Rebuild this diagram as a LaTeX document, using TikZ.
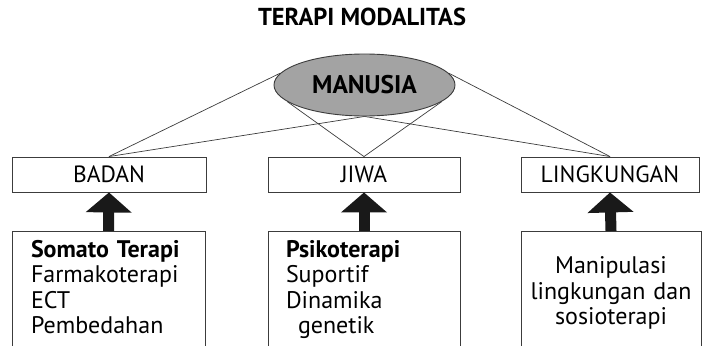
\documentclass[tikz,border=0pt]{standalone}
\usepackage{fontspec}
\setmainfont{PT Sans}
\usetikzlibrary{shapes.geometric, arrows.meta, positioning}
\definecolor{ovalgray}{RGB}{163,163,163}
\definecolor{edgegray}{RGB}{60,60,60}

\begin{document}
\begin{tikzpicture}[x=1pt, y=-1pt, aspect/.style={draw=edgegray,
      line width=0.9pt, minimum height=35pt, inner sep=0pt,
      font=\fontsize{23.5}{26}\selectfont}, therapy/.style={draw=edgegray,
      line width=0.9pt, anchor=north, minimum height=118pt, inner ysep=0pt,
      align=left, font=\fontsize{24}{25.5}\selectfont}, human/.style={ellipse,
      draw=edgegray, line width=0.9pt, fill=ovalgray, minimum width=181pt,
      minimum height=62pt, inner sep=0pt,
      font=\fontsize{25.5}{28}\selectfont\bfseries}, link/.style={draw=edgegray,
      line width=0.7pt}, push/.style={line width=11pt, black!90,
      -{Triangle[width=45pt, length=20pt]}} ]
    \clip (0,0) rectangle (703,345);

    % Title
    \node[font=\fontsize{24.5}{27}\selectfont\bfseries] (title) at (362,17)
    {TERAPI MODALITAS};

    % Manusia
    \node[human] (man) at (364.5,85) {MANUSIA};

    % Aspects
    \node[aspect, minimum width=194pt] (badan) at (109,174.5) {BADAN};
    \node[aspect, minimum width=192pt] (jiwa) at (364,174.5) {JIWA};
    \node[aspect, minimum width=178pt] (lingk) at (610,174.5) {LINGKUNGAN};

    % Lines from manusia
    \draw[link] (badan.north) -- (man.172); \draw[link] (badan.north) --
    (man.south); \draw[link] (jiwa.north) -- (man.192); \draw[link]
    (jiwa.north) -- (man.348); \draw[link] (lingk.north) -- (man.8);
    \draw[link] (lingk.north) -- (man.south);

    % Therapies
    \node[therapy, text width=155pt, inner xsep=19pt] (somato) at (108.5,231)
    {\strut\textbf{Somato Terapi}\\Farmakoterapi\\ECT\\Pembedahan\strut};
    \node[therapy, text width=156pt, inner xsep=18pt] (psiko) at (364,231)
    {\strut\textbf{Psikoterapi}\\Suportif\\Dinamika\\\hspace*{0.5em}genetik\strut};
    \node[therapy, text width=168pt, inner xsep=6pt, align=center,
    minimum height=125pt] (sosio) at (611,231)
    {\strut Manipulasi\\lingkungan dan\\sosioterapi\strut};

    % Block arrows
    \draw[push] (somato.north) -- (badan.south); \draw[push] (psiko.north) --
    (jiwa.south); \draw[push] (sosio.north) -- (lingk.south);

\end{tikzpicture}
\end{document}
